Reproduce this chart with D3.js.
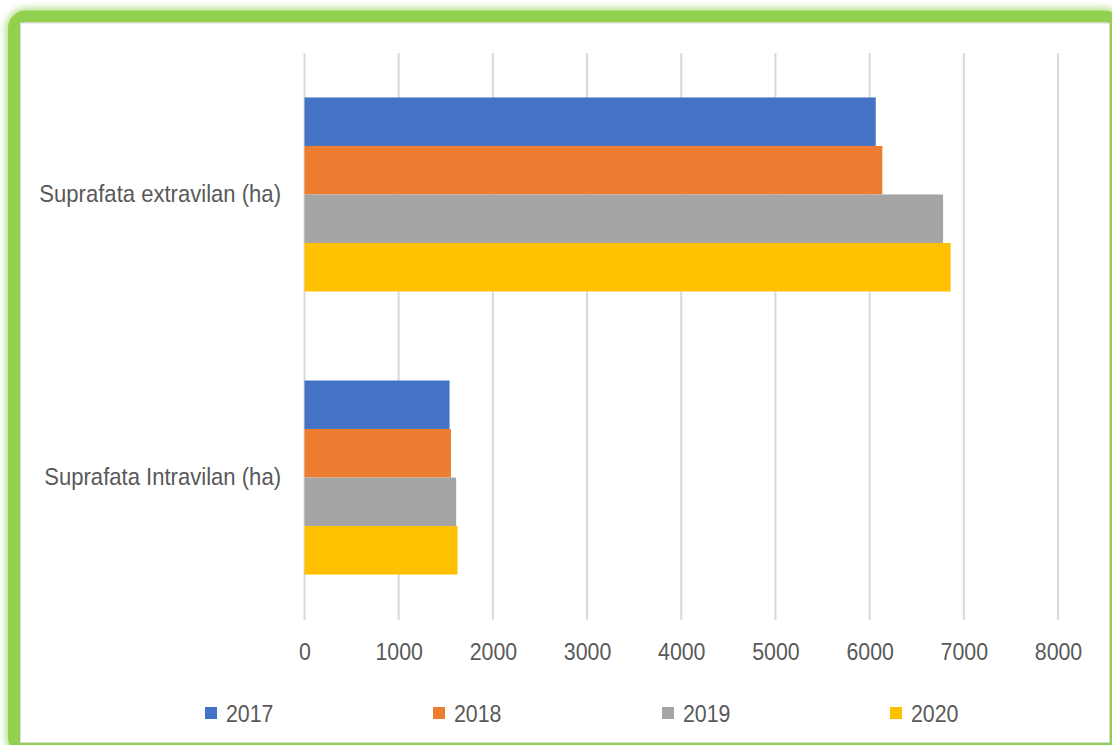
<!DOCTYPE html>
<html>
<head>
<meta charset="utf-8">
<script src="https://cdn.jsdelivr.net/npm/d3@7"></script>
<style>
  body { margin: 0; background: #fff; }
  svg text { font-family: "Liberation Sans", Arial, sans-serif; fill: #595959; }
</style>
</head>
<body>
<div id="chart"></div>
<script>
// data
const categories = ['Suprafata extravilan (ha)', 'Suprafata Intravilan (ha)'];
const years = ['2017', '2018', '2019', '2020'];
const colors = ['#4472c4', '#ed7d31', '#a5a5a5', '#ffc000'];
const extravilan = [6065, 6135, 6780, 6860];
const intravilan = [1540, 1555, 1610, 1625];
const xTicks = [0, 1000, 2000, 3000, 4000, 5000, 6000, 7000, 8000];

const width = 1112, height = 745;
const values = [extravilan, intravilan];
// squeeze the text a bit to look like the narrow office font
const squeeze = 0.89;

const svg = d3.select('#chart').append('svg')
    .attr('width', width)
    .attr('height', height)

// green frame with a soft glow
const defs = svg.append('defs')
defs.append('filter')
    .attr('id', 'glow')
    .attr('x', '-5%').attr('y', '-5%').attr('width', '110%').attr('height', '110%')
    .append('feGaussianBlur')
    .attr('stdDeviation', 3)

svg.append('rect')
    .attr('x', 14).attr('y', 16.5)
    .attr('width', 1102).attr('height', 732.5)
    .attr('rx', 12)
    .style('fill', 'none')
    .style('stroke', '#92d050')
    .style('stroke-width', 18)
    .style('opacity', 0.6)
    .attr('filter', 'url(#glow)')

svg.append('rect')
    .attr('x', 14).attr('y', 16.5)
    .attr('width', 1102).attr('height', 732.5)
    .attr('rx', 12)
    .style('fill', '#fff')
    .style('stroke', '#92d050')
    .style('stroke-width', 12)

svg.append('rect')
    .attr('x', 20.5).attr('y', 23)
    .attr('width', 1089).attr('height', 719.5)
    .style('fill', '#fff')
    .style('stroke', '#d9d9d9')
    .style('stroke-width', 1)

const x = d3.scaleLinear()
    .domain([0, 8000])
    .range([304.5, 1058])

const y = d3.scaleBand()
    .domain(categories)
    .range([53, 619])
    .paddingInner(0.3145)
    .paddingOuter(0.157)

const yInner = d3.scaleBand()
    .domain(years)
    .range([0, y.bandwidth()])

const color = d3.scaleOrdinal().domain(years).range(colors)

// gridlines
svg.append('g')
    .selectAll('line')
    .data(xTicks)
    .enter().append('line')
    .attr('x1', d => x(d)).attr('x2', d => x(d))
    .attr('y1', 53).attr('y2', 620)
    .style('stroke', '#d9d9d9')
    .style('stroke-width', 2)

// bars
const group = svg.append('g')
    .selectAll('g')
    .data(categories)
    .enter().append('g')
    .attr('transform', d => 'translate(0,' + y(d) + ')')

group.selectAll('rect')
    .data((d, i) => years.map((yr, j) => ({ year: yr, value: values[i][j] })))
    .enter().append('rect')
    .attr('x', x(0))
    .attr('y', d => yInner(d.year))
    .attr('width', d => x(d.value) - x(0))
    .attr('height', yInner.bandwidth())
    .style('fill', d => color(d.year))

// x axis labels
const xAxis = svg.append('g')
    .attr('transform', 'translate(0,643)')
    .call(d3.axisBottom(x).tickValues(xTicks).tickFormat(d3.format('d')).tickSize(0).tickPadding(0))
xAxis.select('.domain').remove()
xAxis.selectAll('text')
    .attr('dy', '0.71em')
    .attr('transform', `scale(${squeeze},1)`)
    .style('font-size', '24px')
    .style('fill', '#595959')

// category labels
const yAxis = svg.append('g')
    .attr('transform', 'translate(281,0)')
    .call(d3.axisLeft(y).tickSize(0).tickPadding(0))
yAxis.select('.domain').remove()
yAxis.selectAll('text')
    .attr('transform', 'scale(0.92,1)')
    .style('font-size', '24px')
    .style('fill', '#595959')

// legend
const legendX = [205, 433, 662, 890];
const legend = svg.append('g')
    .selectAll('g')
    .data(years)
    .enter().append('g')
    .attr('transform', (d, i) => 'translate(' + legendX[i] + ',713)')

legend.append('rect')
    .attr('x', 0).attr('y', -6)
    .attr('width', 12).attr('height', 12)
    .style('fill', d => color(d))

legend.append('text')
    .attr('x', 21 / squeeze)
    .attr('dy', '0.36em')
    .attr('transform', `scale(${squeeze},1)`)
    .style('font-size', '24px')
    .text(d => d)
</script>
</body>
</html>
